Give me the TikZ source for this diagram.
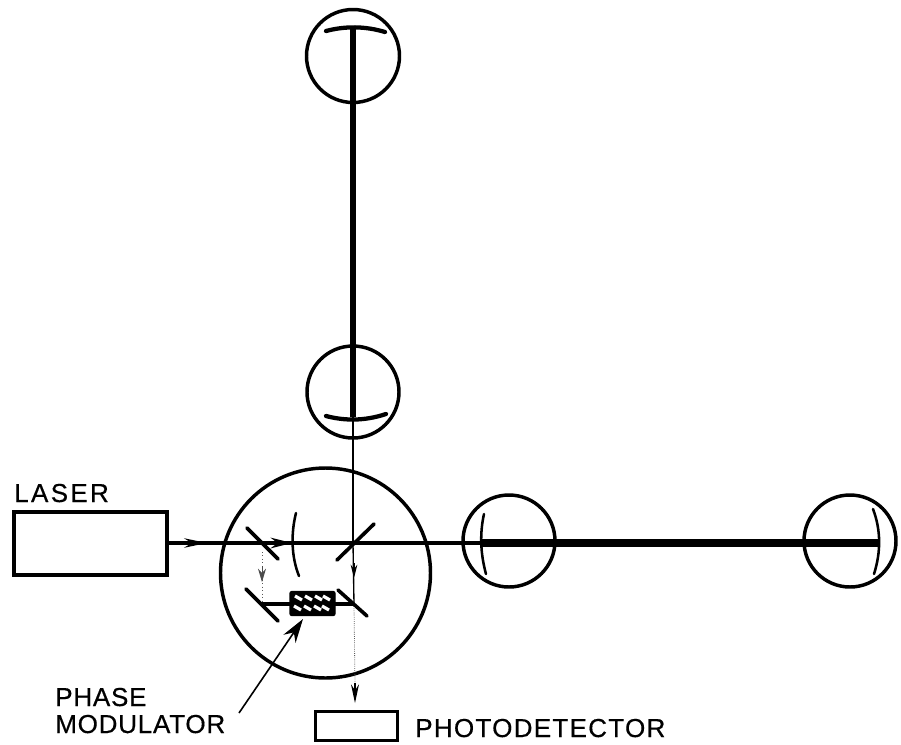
\documentclass[tikz,border=0pt]{standalone}
\usepackage{fontspec}
\setmainfont{Liberation Sans}
\usetikzlibrary{arrows.meta}
\tikzset{
    lens/.style={draw=black, line width=2.6pt, fill=none, circle, inner sep=0pt},
    box/.style={draw=black, line width=2.3pt, rectangle, inner sep=0pt},
    mirror/.style={line width=2.7pt, line cap=round},
    endmirror/.style={line width=3.2pt, line cap=round},
    thinmirror/.style={line width=1.9pt, line cap=round},
    thinbeam/.style={line width=2.3pt},
    thickbeam/.style={line width=5pt},
    faintbeam/.style={line width=0.6pt, black!65},
    lbl/.style={anchor=base west, inner sep=0pt, font=\fontsize{19.5pt}{19.5pt}\selectfont},
}
\begin{document}
\begin{tikzpicture}[x=0.75pt, y=-0.75pt]
    \useasboundingbox (0,0) rectangle (901,744);
    \fill[white] (0,0) rectangle (901,744);
    % telescopes and the central vacuum tank
    \foreach \nm/\px/\py/\rad in {armtop/353/56/46.5, armmid/353/392/46, tank/325.5/573/105, armnear/509/541/46, armfar/850/541/46} {
        \node[lens, minimum size=2*\rad*0.75pt] (\nm) at (\px,\py) {};
    }
    \node[box, minimum width=153*0.75pt, minimum height=63*0.75pt] (laser) at (90.5,543.5) {};
    \node[box, minimum width=82*0.75pt, minimum height=29*0.75pt] (detector) at (356.5,726) {};
    % beam points
    \coordinate (mtop) at (353,28);
    \coordinate (mmid) at (353,417);
    \coordinate (mnear) at (481,543);
    \coordinate (mfar) at (879,543);
    \coordinate (split) at (353,543);
    \coordinate (pick) at (354,604);
    \coordinate (turn) at (262,604);
    \coordinate (fold) at (262,552);
    % beams
    \draw[thickbeam] (mtop) -- (mmid);
    \draw[thickbeam, line width=6pt] (mnear) -- (mfar);
    \draw[thinbeam] (laser.east |- split) -- (mnear);
    \draw[thinbeam, -{Stealth[length=17pt, width=7pt]}] (laser.east |- split) -- (207,543);
    \draw[thinbeam, -{Stealth[length=16pt, width=8pt]}] (262,543) -- (292,543);
    \draw[line width=1.6pt] (mmid) -- (split);
    \draw[line width=1pt] (split) -- (pick);
    \draw[faintbeam, dotted] (fold) -- (turn);
    \draw[faintbeam, densely dotted] (pick) -- (355,685);
    \draw[line width=0.9pt, -{Stealth[length=10pt, width=5pt]}] (354,563) -- (354,578);
    \draw[line width=0.7pt, black!70, -{Stealth[length=10pt, width=6pt]}] (262,566) -- (262,582);
    \draw[line width=0.9pt, -{Stealth[length=14pt, width=6pt]}] (355,683) -- (355,703);
    \draw[thinbeam] (turn) -- (pick);
    % mirrors
    \draw[endmirror] (326,31) .. controls (345,26) and (365,26) .. (385,32);
    \draw[endmirror] (326,416) .. controls (345,421) and (365,421) .. (386,414);
    \draw[thinmirror] (484,514) .. controls (480,532) and (480,552) .. (486,574);
    \draw[thinmirror] (873,509) .. controls (881,530) and (881,552) .. (874,574);
    \draw[thinmirror] (296,513) .. controls (291,533) and (291,556) .. (299,576);
    \draw[mirror] (247,528) -- (278,559);
    \draw[mirror] (337,560) -- (374,524);
    \draw[mirror] (246,589) -- (278,621);
    \draw[mirror] (338,590) -- (367,616);
    % modulator crystal
    \node[box, fill=black, rounded corners=1.5pt, line width=1pt, minimum width=45*0.75pt, minimum height=24*0.75pt] (crystal) at (312.5,603.5) {};
    \foreach \hx in {295,305,315,323} {
        \draw[white, line width=2.4pt] (\hx,596) -- ++(7,4);
        \draw[white, line width=2.4pt] (\hx-1,606) -- ++(7,4);
    }
    \coordinate (tail) at (239,713);
    \draw[line width=1.2pt, -{Stealth[length=18pt, width=11pt]}] (tail) -- (303,619);
    % labels
    \node[lbl] (lblLaser) at (14,502) {\addfontfeature{LetterSpace=9,FakeBold=0.5}LASER};
    \node[lbl] (lblPhase) at (55,706) {\addfontfeature{LetterSpace=3,FakeBold=0.5}PHASE};
    \node[lbl] (lblMod) at (55,733) {\addfontfeature{LetterSpace=3,FakeBold=0.5}MODULATOR};
    \node[lbl] (lblDet) at (415,737) {\addfontfeature{LetterSpace=5,FakeBold=0.5}PHOTODETECTOR};
\end{tikzpicture}
\end{document}
